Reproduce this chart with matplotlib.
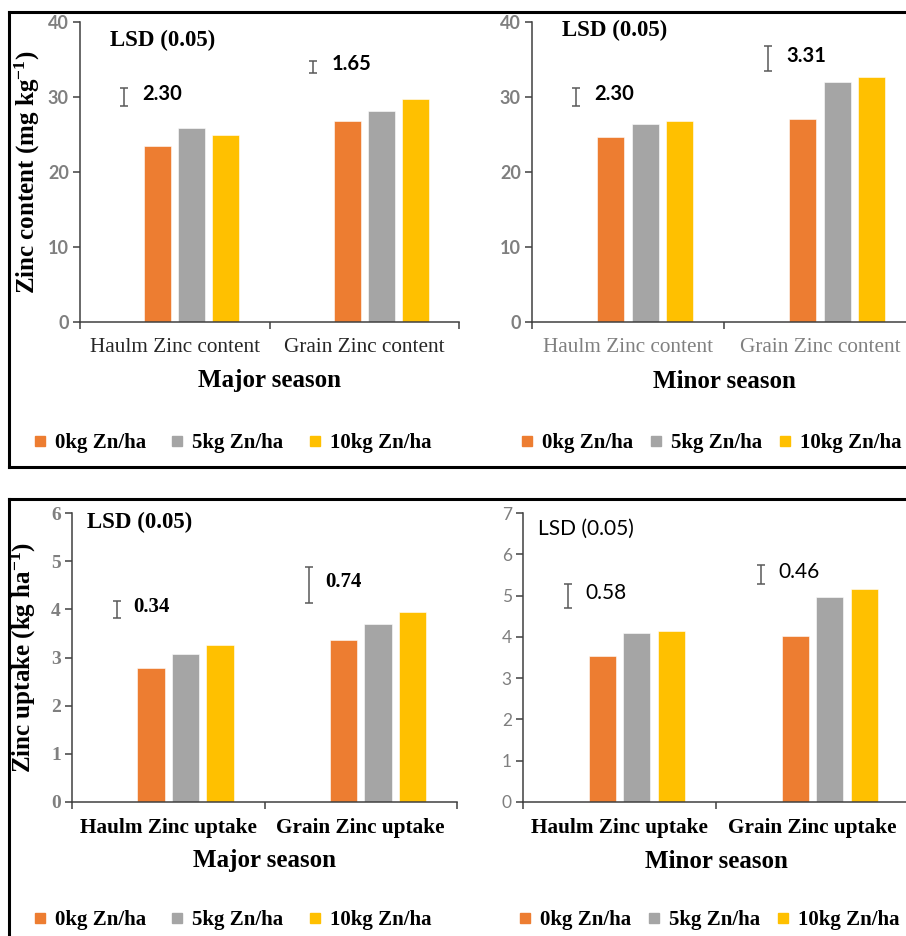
import matplotlib
matplotlib.use('Agg')
import matplotlib.pyplot as plt
from matplotlib.lines import Line2D

# ---------------- data ----------------
series = ['0kg Zn/ha', '5kg Zn/ha', '10kg Zn/ha']
colors = ['#ED7D31', '#A5A5A5', '#FFC000']

content_cats = ['Haulm Zinc content', 'Grain Zinc content']
uptake_cats = ['Haulm Zinc uptake', 'Grain Zinc uptake']

# zinc content (mg/kg), one list per series, [haulm, grain]
major_content = [[23.4, 26.8], [25.9, 28.1], [24.9, 29.7]]
minor_content = [[24.6, 27.0], [26.4, 32.0], [26.8, 32.7]]
# zinc uptake (kg/ha)
major_uptake = [[2.78, 3.36], [3.08, 3.69], [3.25, 3.94]]
minor_uptake = [[3.53, 4.01], [4.10, 4.97], [4.13, 5.17]]

# LSD bars: centre of the bar and LSD value
major_content_lsd_mid = [30.0, 34.0]
major_content_lsd = [2.30, 1.65]
minor_content_lsd_mid = [30.0, 35.1]
minor_content_lsd = [2.30, 3.31]
major_uptake_lsd_mid = [4.0, 4.5]
major_uptake_lsd = [0.34, 0.74]
minor_uptake_lsd_mid = [5.0, 5.5]
minor_uptake_lsd = [0.58, 0.46]

# ---------------- style ----------------
SERIF = 'Liberation Serif'
SANS = 'Lato'
plt.rcParams['mathtext.fontset'] = 'custom'
plt.rcParams['mathtext.rm'] = 'Liberation Serif:bold'
plt.rcParams['mathtext.it'] = 'Liberation Serif:bold'
plt.rcParams['mathtext.bf'] = 'Liberation Serif:bold'

W, H = 906, 936
fig = plt.figure(figsize=(W / 100, H / 100), dpi=100)


def px_axes(x0, x1, y0, y1):
    return fig.add_axes([x0 / W, 1 - y1 / H, (x1 - x0) / W, (y1 - y0) / H])


slot = 0.179
barw = 0.142


def panel(ax, cats, vals, lsd_mid, lsd, ymax, cfg):
    for i in range(3):
        xs = [c + (i - 0.5) * slot for c in range(2)]
        ax.bar(xs, vals[i], width=barw, color=colors[i], edgecolor='white', linewidth=0.4, zorder=2)
    lx = [c - 1.5 * slot for c in range(2)]
    half = [v / 2 for v in lsd]
    ax.errorbar(lx, lsd_mid, yerr=half, fmt='none', ecolor='#595959', elinewidth=1.1, capsize=3.2, capthick=1.1, zorder=3)
    for x, y, v in zip(lx, lsd_mid, lsd):
        ax.annotate('%.2f' % v, (x, y), xytext=(cfg['lsd_dx'], 2), textcoords='offset points',
                    ha='left', va='center', fontsize=cfg['val_size'], family=cfg['val_font'],
                    fontweight=cfg['val_weight'], color='black')

    ax.set_xlim(-0.5, 1.5)
    ax.set_ylim(0, ymax)
    ax.set_yticks(range(0, ymax + 1, cfg['ystep']))
    ax.set_xticks([-0.5, 0.5, 1.5])
    ax.set_xticklabels([])
    for s in ['top', 'right']:
        ax.spines[s].set_visible(False)
    for s in ['left', 'bottom']:
        ax.spines[s].set_color('#404040')
        ax.spines[s].set_linewidth(1.1)
    ax.tick_params(axis='y', direction='out', length=5, width=1.1, color='#404040', pad=3,
                   labelcolor='#7f7f7f', labelsize=cfg['tick_size'])
    ax.tick_params(axis='x', direction='out', length=5, width=1.1, color='#404040')
    for t in ax.get_yticklabels():
        t.set_family(cfg['tick_font'])
        t.set_fontweight(cfg['tick_weight'])

    hpx = ax.get_position().height * H
    for c, name in enumerate(cats):
        ax.text(c, -26 / hpx, name, transform=ax.get_xaxis_transform(), ha='center', va='center',
                fontsize=15.3, family=SERIF, fontweight=cfg['cat_weight'], color=cfg['cat_color'])
    ax.text(0.5, -59 / hpx, cfg['season'], transform=ax.transAxes, ha='center', va='center',
            fontsize=18, family=SERIF, fontweight='bold', color='black')
    ax.text(cfg['lsd_pos'][0], cfg['lsd_pos'][1], 'LSD (0.05)', transform=ax.transAxes,
            ha='left', va='center', fontsize=cfg['lsd_size'], family=cfg['lsd_font'],
            fontweight=cfg['lsd_weight'], color='black')
    if cfg.get('ylabel'):
        ax.text(cfg['ylabel_x'], 0.5, cfg['ylabel'], transform=ax.transAxes, rotation=90,
                ha='center', va='center', family=SERIF, fontweight='bold', fontsize=18, color='black')


def add_legend(x_start, y_center, spacing):
    handles = [Line2D([], [], marker='s', linestyle='none', markersize=7.5, color=c) for c in colors]
    fig.legend(handles, series, loc='center left', bbox_to_anchor=(x_start / W, 1 - y_center / H),
               ncol=3, frameon=False, borderpad=0, borderaxespad=0, handlelength=0.6,
               handletextpad=0.42, columnspacing=spacing,
               prop={'family': SERIF, 'weight': 'bold', 'size': 15})


ax_tl = px_axes(80, 459, 22, 322)
panel(ax_tl, content_cats, major_content, major_content_lsd_mid, major_content_lsd, 40,
      dict(ystep=10, tick_font=SANS, tick_weight='bold', tick_size=13, val_font=SANS,
           val_weight='bold', val_size=14.5, lsd_dx=13, cat_weight='normal', cat_color='#262626',
           season='Major season', lsd_pos=(0.079, 0.94), lsd_font=SERIF, lsd_weight='bold',
           lsd_size=16.5, ylabel='Zinc content (mg kg$^{-1}$)', ylabel_x=-0.14))

ax_tr = px_axes(532, 916, 22, 322)
panel(ax_tr, content_cats, minor_content, minor_content_lsd_mid, minor_content_lsd, 40,
      dict(ystep=10, tick_font=SANS, tick_weight='bold', tick_size=13, val_font=SANS,
           val_weight='bold', val_size=14.5, lsd_dx=13, cat_weight='normal', cat_color='#808080',
           season='Minor season', lsd_pos=(0.078, 0.973), lsd_font=SERIF, lsd_weight='bold',
           lsd_size=16.5))

ax_bl = px_axes(72, 457, 513, 802)
panel(ax_bl, uptake_cats, major_uptake, major_uptake_lsd_mid, major_uptake_lsd, 6,
      dict(ystep=1, tick_font=SERIF, tick_weight='bold', tick_size=14, val_font=SERIF,
           val_weight='bold', val_size=15, lsd_dx=12, cat_weight='bold', cat_color='black',
           season='Major season', lsd_pos=(0.039, 0.969), lsd_font=SERIF, lsd_weight='bold',
           lsd_size=16.5, ylabel='Zinc uptake (kg ha$^{-1}$)', ylabel_x=-0.125))

ax_br = px_axes(523, 909, 513, 802)
panel(ax_br, uptake_cats, minor_uptake, minor_uptake_lsd_mid, minor_uptake_lsd, 7,
      dict(ystep=1, tick_font=SANS, tick_weight='normal', tick_size=12.5, val_font=SANS,
           val_weight='normal', val_size=15, lsd_dx=13, cat_weight='bold', cat_color='black',
           season='Minor season', lsd_pos=(0.039, 0.945), lsd_font=SANS, lsd_weight='normal',
           lsd_size=15))

add_legend(34, 443, 1.19)
add_legend(521, 443, 0.8)
add_legend(34, 920, 1.19)
add_legend(519, 920, 0.8)

# frames around the two figure rows
def fline(xs, ys):
    fig.add_artist(Line2D([x / W for x in xs], [1 - y / H for y in ys], color='black', linewidth=2.2))

fline([9, 9], [12, 467])
fline([9, 920], [12, 12])
fline([9, 920], [467, 467])
fline([9, 9], [499, 940])
fline([9, 920], [499, 499])

fig.savefig('out.png', dpi=100)
